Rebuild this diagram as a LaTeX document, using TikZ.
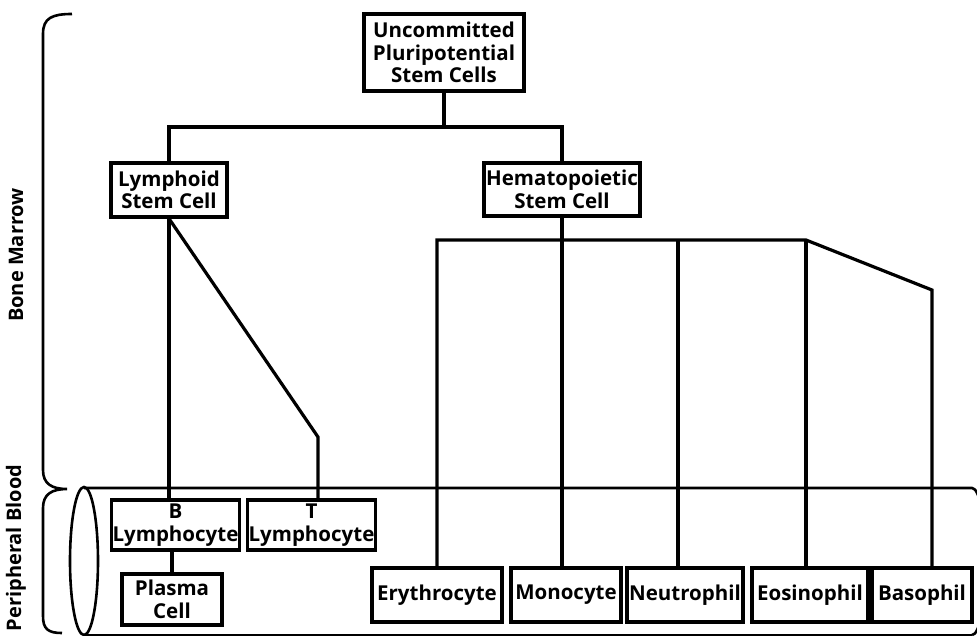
\documentclass[tikz,border=0pt]{standalone}
\usepackage{fontspec}
\setmainfont{Open Sans}
\begin{document}
\begin{tikzpicture}[x=1pt,y=-1pt,line width=3.2pt,
  cell/.style={draw,rectangle,inner sep=1pt,line width=3.2pt,align=center,font=\fontsize{20.5}{22.5}\selectfont\bfseries},
  side/.style={rotate=90,font=\fontsize{20}{22}\selectfont\bfseries},
  link/.style={line width=3.2pt},
  brace/.style={line width=2.6pt}]
\useasboundingbox (0,0) rectangle (977,635);
% tube
\draw[brace] (84,561) ellipse [x radius=14, y radius=74];
\coordinate (tubeTL) at (84,488);
\coordinate (tubeTR) at (972,488);
\coordinate (tubeBL) at (84,635);
\coordinate (tubeBR) at (972,635);
\draw[brace] (tubeTL) -- (tubeTR) arc [start angle=-90, end angle=90, x radius=14, y radius=73.5];
\draw[brace] (tubeBL) -- (tubeBR);
% brace
\draw[brace] (72,14) .. controls (52,14) and (43,18) .. (43,34) -- (43,470)
  .. controls (43,484) and (52,489) .. (67,489)
  .. controls (52,489) and (43,494) .. (43,508) -- (43,616)
  .. controls (43,629) and (48,633) .. (62,633);
\node[side] (bm) at (16,255) {Bone Marrow};
\node[side] (pb) at (16,548) {Peripheral Blood};
% nodes
\node[cell,minimum width=160,minimum height=77] (uc) at (444,52.5) {Uncommitted\\Pluripotential\\Stem Cells};
\node[cell,minimum width=116,minimum height=54] (ly) at (169,190) {Lymphoid\\Stem Cell};
\node[cell,minimum width=156,minimum height=53] (he) at (562,189.5) {Hematopoietic\\Stem Cell};
\node[cell,minimum width=125,minimum height=50] (bl) at (175.5,525) {B\\Lymphocyte};
\node[cell,minimum width=127,minimum height=50] (tl) at (311.5,525) {T\\Lymphocyte};
\node[cell,minimum width=100,minimum height=51] (pc) at (172,599.5) {Plasma\\Cell};
\node[cell,minimum width=130,minimum height=54] (er) at (437,595) {Erythrocyte};
\node[cell,minimum width=110,minimum height=54] (mo) at (566,595) {Monocyte};
\node[cell,minimum width=116,minimum height=54] (ne) at (685,595) {Neutrophil};
\node[cell,minimum width=116,minimum height=54] (eo) at (810,595) {Eosinophil};
\node[cell,minimum width=100,minimum height=54] (ba) at (922,595) {Basophil};
% connectors
\coordinate (j) at (444,127);
\draw[link] (uc.south) -- (j);
\draw[link] (ly.north) |- (he.north |- j) -- (he.north);
\draw[link] (ly.south) -- (ly.south |- bl.north);
\coordinate (tk) at (318,437);
\draw[link] (ly.south) -- (tk) -- (tk |- tl.north);
\draw[link] (bl.south -| pc.north) -- (pc.north);
\coordinate (h1) at (437,240);
\coordinate (h4) at (806,240);
\coordinate (h5) at (932,290);
\draw[link] (he.south) -- (he.south |- mo.north);
\draw[link] (er.north -| h1) -- (h1) -- (h4) -- (h5) -- (h5 |- ba.north);
\draw[link] (h1 -| ne.north) ++(-7,0) coordinate (n1) -- (n1 |- ne.north);
\draw[link] (h4) -- (h4 |- eo.north);
\end{tikzpicture}
\end{document}
